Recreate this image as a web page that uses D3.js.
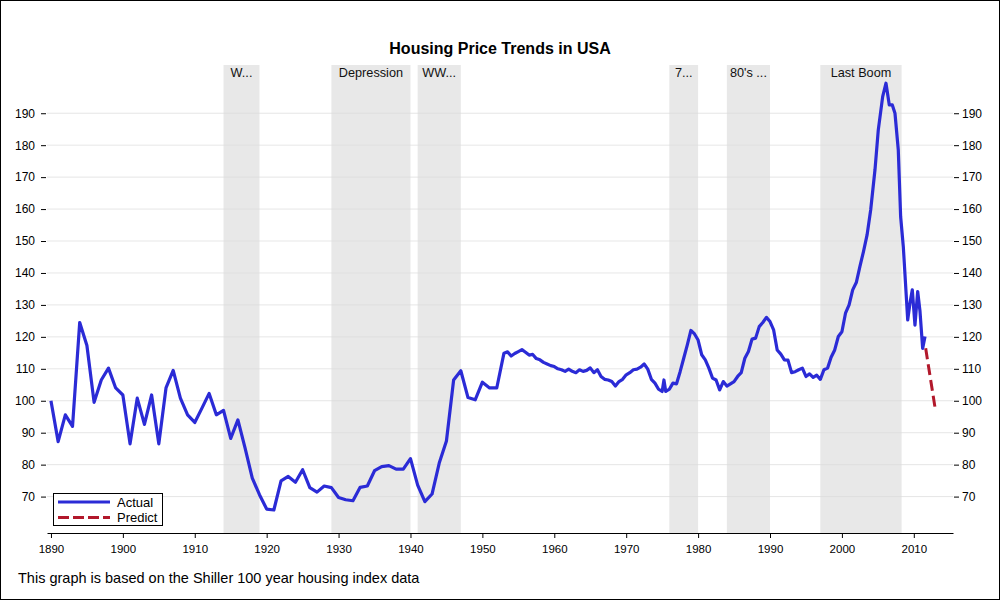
<!DOCTYPE html>
<html><head><meta charset="utf-8">
<script src="https://cdn.jsdelivr.net/npm/d3@7"></script>
<style>
body{margin:0;background:#fff;}
text{font-family:"Liberation Sans",Arial,sans-serif;fill:#000;}
</style></head>
<body><svg id="c" width="1000" height="600"></svg>
<script>
const title = "Housing Price Trends in USA";
const footnote = "This graph is based on the Shiller 100 year housing index data";
const actualYears = [1890,1891,1892,1893,1894,1895,1896,1897,1898,1899,1900,1901,1902,1903,1904,1905,1906,1907,1908,1909,
1910,1911,1912,1913,1914,1915,1916,1917,1918,1919,1920,1921,1922,1923,1924,1925,1926,1927,1928,1929,
1930,1931,1932,1933,1934,1935,1936,1937,1938,1939,1940,1941,1942,1943,1944,1945,1946,1947,1948,1949,
1950,1951,1952,1953,1953.5,1954,1954.5,1955,1955.5,1956,1956.5,1957,1957.5,1958,1958.5,1959,1959.5,
1960,1960.5,1961,1961.5,1962,1962.5,1963,1963.5,1964,1964.5,1965,1965.5,1966,1966.5,1967,1967.5,1968,1968.5,1969,1969.5,
1970,1970.5,1971,1971.5,1972,1972.5,1973,1973.5,1974,1974.5,1975,1975.25,1975.5,1976,1976.5,1977,1977.5,1978,1978.5,1979,1979.5,
1980,1980.5,1981,1981.5,1982,1982.5,1983,1983.5,1984,1984.5,1985,1985.5,1986,1986.5,1987,1987.5,1988,1988.5,1989,1989.5,
1990,1990.5,1991,1991.5,1992,1992.5,1993,1993.5,1994,1994.5,1995,1995.5,1996,1996.5,1997,1997.5,1998,1998.5,1999,1999.5,
2000,2000.5,2001,2001.5,2002,2002.5,2003,2003.5,2004,2004.6,2005.06,2005.67,2006.13,2006.59,2007.01,2007.38,2007.84,
2008.17,2008.54,2009.15,2009.47,2009.79,2010.16,2010.54,2010.86,2011.23,2011.56];
const actualValues = [100.0,87.2,95.6,92.0,124.5,117.3,99.5,106.5,110.2,104.0,101.8,86.5,100.8,92.6,101.8,86.5,104.0,109.5,100.8,95.6,
93.2,97.7,102.3,95.6,97.0,88.2,94.0,85.2,75.8,70.6,66.1,65.8,74.9,76.3,74.5,78.4,72.8,71.4,73.3,72.8,
69.7,69.0,68.7,72.9,73.3,78.1,79.4,79.7,78.6,78.6,81.9,73.6,68.4,70.8,80.5,87.4,106.5,109.4,101.0,100.3,
105.8,104.0,104.0,114.9,115.3,114.0,114.8,115.4,116.0,115.2,114.3,114.5,113.2,112.8,112.0,111.5,111.0,
110.7,110.0,109.7,109.2,109.9,109.2,108.8,109.7,109.2,109.5,110.3,108.8,109.7,107.6,106.7,106.5,106.0,104.6,106.0,106.7,
108.1,108.8,109.7,109.9,110.5,111.5,109.9,106.7,105.5,103.6,102.9,106.5,102.9,103.6,105.5,105.3,109.1,113.3,117.5,122.0,120.9,
119.0,114.4,112.8,110.2,107.1,106.5,103.4,106.0,104.6,105.3,106.0,107.6,108.8,113.3,115.4,119.3,119.6,123.2,124.5,126.1,
124.8,122.2,115.9,114.6,112.8,112.7,108.8,109.1,109.7,110.2,107.6,108.4,107.3,108.0,106.7,109.7,110.2,113.6,115.9,120.1,
121.6,127.4,130.0,134.7,137.0,142.0,146.7,151.9,159.7,172.3,184.8,195.2,199.4,192.6,192.6,190.0,178.5,
157.6,148.2,125.3,130.6,134.7,123.7,134.2,128.0,116.4,120.1];
const predictYears = [2011.65, 2013.04];
const predictValues = [116.4, 96.6];
const bandStarts = [1914, 1929, 1941, 1976, 1984, 1997];
const bandEnds = [1919, 1940, 1947, 1980, 1990, 2008.3];
const bandLabels = ["W...", "Depression", "WW...", "7...", "80's ...", "Last Boom"];
const xTicks = [1890,1900,1910,1920,1930,1940,1950,1960,1970,1980,1990,2000,2010];
const yTicks = [70,80,90,100,110,120,130,140,150,160,170,180,190];
const legendLabels = ["Actual", "Predict"];

const svg = d3.select("#c");
const L = 47, R = 953, T = 65, B = 533;
const x = d3.scaleLinear().domain([1889.45, 2015.45]).range([L, R]);
const y = d3.scaleLinear().domain([58.6, 205.1]).range([B, T]);
const blue = "#2b2bd6", red = "#b2182b";

svg.append("rect").attr("x",0.5).attr("y",0.5).attr("width",999).attr("height",599)
  .attr("fill","#fff").attr("stroke","#000");

// bands
const bands = bandStarts.map((s,i)=>({s, e: bandEnds[i], label: bandLabels[i]}));
svg.selectAll(".band").data(bands).join("rect")
  .attr("x", d=>x(d.s)).attr("width", d=>x(d.e)-x(d.s))
  .attr("y", T).attr("height", B-T).attr("fill","#e8e8e8");
svg.selectAll(".bl").data(bands).join("text")
  .attr("x", d=>(x(d.s)+x(d.e))/2).attr("y", 77)
  .attr("text-anchor","middle").style("font-size","12.7px").style("fill","#111")
  .text(d=>d.label);

// grid
svg.selectAll(".grid").data(yTicks).join("line")
  .attr("x1", L).attr("x2", R).attr("y1", d=>y(d)).attr("y2", d=>y(d))
  .attr("stroke","#dcdcdc").attr("stroke-opacity",0.7).attr("stroke-width",1);

// axes
const yl = svg.append("g").attr("transform",`translate(${L-1},0)`)
  .call(d3.axisLeft(y).tickValues(yTicks).tickSize(5).tickPadding(6));
const yr = svg.append("g").attr("transform",`translate(${R+1},0)`)
  .call(d3.axisRight(y).tickValues(yTicks).tickSize(5).tickPadding(3));
[yl, yr].forEach(g=>{
  g.select(".domain").remove();
  g.selectAll("text").style("font-size","12px").style("font-family","'Liberation Sans',Arial,sans-serif");
});
const xa = svg.append("g").attr("transform",`translate(0,${B})`)
  .call(d3.axisBottom(x).tickValues(xTicks).tickFormat(d3.format("d")).tickSize(5).tickPadding(7).tickSizeOuter(0));
xa.selectAll("text").style("font-size","11.5px").style("font-family","'Liberation Sans',Arial,sans-serif");

// lines
const actual = actualYears.map((t,i)=>[t, actualValues[i]]);
const predict = predictYears.map((t,i)=>[t, predictValues[i]]);
const line = d3.line().x(d=>x(d[0])).y(d=>y(d[1]));
svg.append("path").datum(actual).attr("d", line).attr("fill","none")
  .attr("stroke", blue).attr("stroke-width",3.2).attr("stroke-linejoin","round");
svg.append("path").datum(predict).attr("d", line).attr("fill","none")
  .attr("stroke", red).attr("stroke-width",3).attr("stroke-dasharray","11,5");

// title & footnote
svg.append("text").attr("x",500).attr("y",54).attr("text-anchor","middle")
  .style("font-size","16px").style("font-weight","bold").text(title);
svg.append("text").attr("x",18).attr("y",583)
  .style("font-size","14.5px").text(footnote);

// legend
const lg = svg.append("g");
lg.append("rect").attr("x",53.5).attr("y",493.5).attr("width",109).attr("height",32)
  .attr("fill","#fff").attr("stroke","#000");
const styles = [{c:blue, dash:null}, {c:red, dash:"11,4"}];
legendLabels.forEach((lab,i)=>{
  const yy = 502 + i*15.5;
  lg.append("line").attr("x1",58).attr("x2",110).attr("y1",yy).attr("y2",yy)
    .attr("stroke", styles[i].c).attr("stroke-width",3).attr("stroke-dasharray", styles[i].dash);
  lg.append("text").attr("x",117).attr("y",yy+4.5).style("font-size","13px").text(lab);
});
</script></body></html>
